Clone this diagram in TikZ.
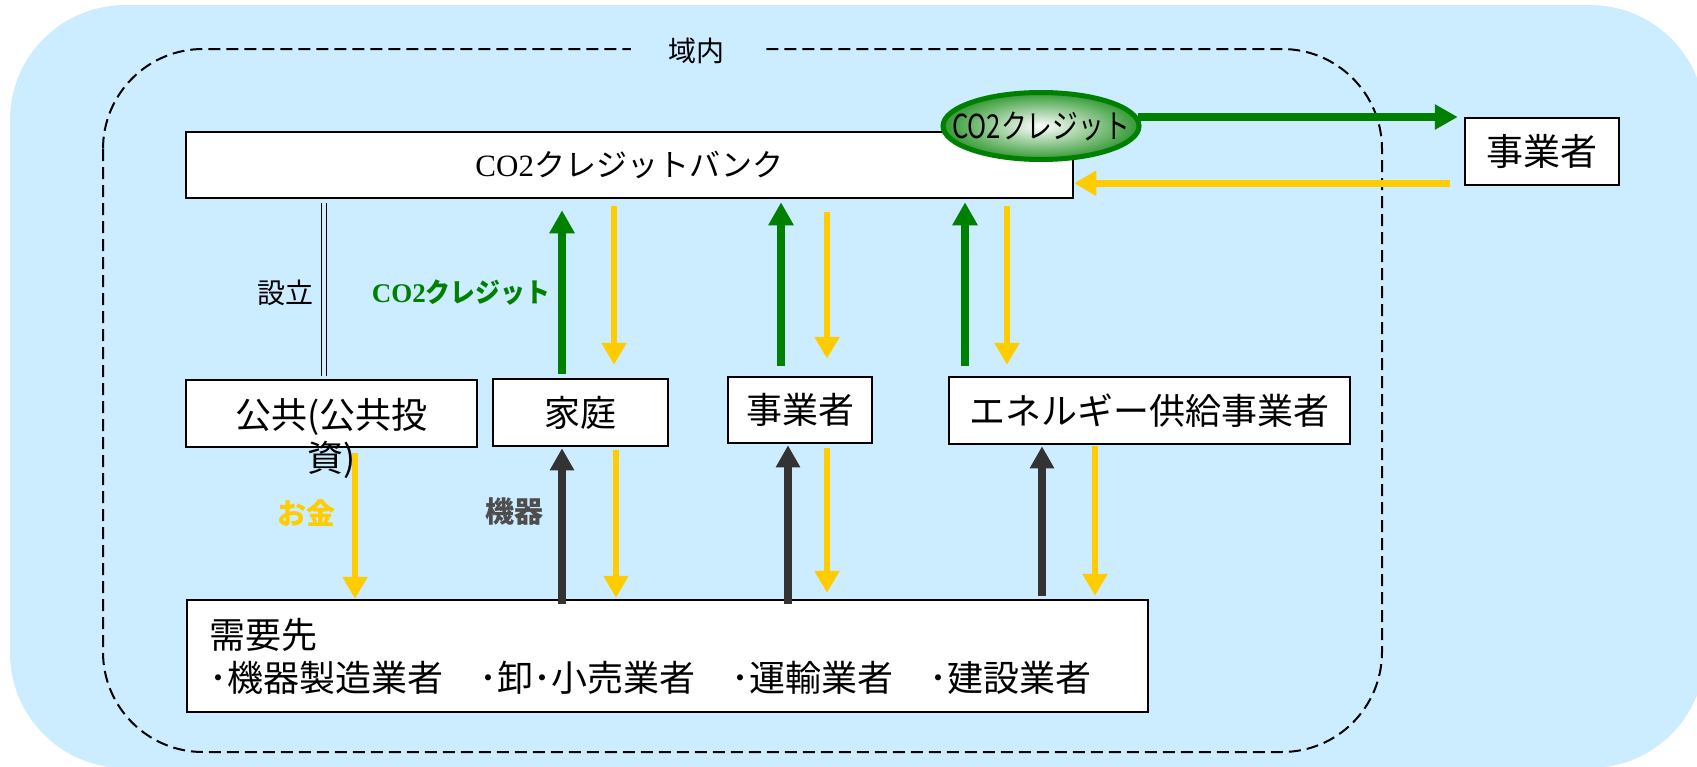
\documentclass[tikz,border=0pt]{standalone}
\usepackage{fontspec}
\usepackage{graphicx}
\setmainfont{Noto Sans CJK JP}
\newfontfamily\latinserif{Liberation Serif}
\usetikzlibrary{arrows.meta,shapes.geometric,calc}
\definecolor{bgblue}{RGB}{204,236,255}
\definecolor{cgreen}{RGB}{0,128,0}
\definecolor{cyellow}{RGB}{255,204,0}
\definecolor{cdark}{RGB}{51,51,51}
\definecolor{cgray}{RGB}{77,77,77}
\begin{document}
\begin{tikzpicture}[x=1pt,y=-1pt,
  box/.style={draw=black, line width=2.5pt, fill=white, inner sep=0pt, font=\fontsize{36}{43}\selectfont},
  garrow/.style={draw=cgreen, line width=8pt, -{Triangle[length=23pt,width=24pt]}},
  yarrow/.style={draw=cyellow, line width=6pt, -{Triangle[length=22pt,width=24pt]}},
  darrow/.style={draw=cdark, line width=8pt, -{Triangle[length=22pt,width=23pt]}},
  lab/.style={inner sep=0pt, font=\fontsize{27}{30}\selectfont}
]
\useasboundingbox (0,0) rectangle (1697,766);
% background
\fill[bgblue, rounded corners=115pt] (10,5) rectangle (1705,768);
% domain
\draw[line width=2pt, dash pattern=on 12pt off 6pt, rounded corners=100pt] (103,49) rectangle (1382,752);
\node[lab, font=\fontsize{28}{30}\selectfont, fill=bgblue, inner xsep=37pt, inner ysep=3pt] (ikinai) at (696,51) {域内};

% nodes
\node[box, minimum width=887pt, minimum height=66pt, font=\fontsize{31}{34}\selectfont] (bank) at (629.5,165) {{\latinserif CO2}クレジットバンク};
\node[ellipse, draw=cgreen, line width=5pt, inner color=white, outer color=cgreen!80, minimum width=196pt, minimum height=67pt, inner sep=0pt] (credit) at (1041,126) {};
\node[inner sep=0pt, font=\fontsize{33}{36}\selectfont] (credittxt) at (credit.center) {\scalebox{0.78}[1]{CO2クレジット}};
\node[box, minimum width=154pt, minimum height=67pt, font=\fontsize{37}{43}\selectfont] (jigyo1) at (1542,151.5) {事業者};
\node[box, minimum width=291pt, minimum height=67pt] (kokyo) at (331.5,413.5) {};
\node[inner sep=0pt, align=center, font=\fontsize{36}{43}\selectfont] (kokyotxt) at ([yshift=-25pt]kokyo.center) {公共(公共投\\資)};
\node[box, minimum width=175pt, minimum height=67pt] (katei) at (580.5,412.5) {家庭};
\node[box, minimum width=144pt, minimum height=66pt] (jigyo2) at (800,410) {事業者};
\node[box, minimum width=401pt, minimum height=67pt] (energy) at (1149.5,410.5) {エネルギー供給事業者};
\node[box, minimum width=961pt, minimum height=112pt, text width=917pt, inner xsep=22pt, align=left, font=\fontsize{36}{43}\selectfont] (juyo) at (667.5,656) {需要先\\･機器製造業者　･卸･小売業者　･運輸業者　･建設業者};

% labels
\node[lab, font=\fontsize{28}{30}\selectfont] (setsu) at (285,293) {設立};
\node[lab, font=\fontsize{27}{30}\selectfont\bfseries, text=cgreen] (co2lab) at (461,293) {{\latinserif\bfseries CO2}\scalebox{0.92}[1]{クレジット}};
\node[lab, font=\fontsize{29}{30}\selectfont\bfseries, text=cyellow] (okane) at (306,513) {お金};
\node[lab, font=\fontsize{29}{30}\selectfont\bfseries, text=cgray] (kiki) at (514,512) {機器};

% double line
\coordinate (dl) at ([xshift=-7.5pt,yshift=3pt]kokyo.north);
\draw[double=bgblue, double distance=3.5pt, line width=1.3pt] ([yshift=-4pt]dl |- bank.south) -- (dl);

% horizontal arrows
\coordinate (ga) at ([yshift=9pt,xshift=-4pt]credit.east);
\draw[garrow] (ga) -- ([xshift=-6pt]ga -| jigyo1.west);
\coordinate (ya) at ([xshift=-14pt,yshift=3pt]jigyo1.south west);
\draw[yarrow, line width=7pt] (ya) -- (ya -| bank.east);

% green up arrows
\coordinate (g1) at ([xshift=-18.5pt,yshift=4pt]katei.north);
\draw[garrow] (g1) -- ([yshift=-11pt]g1 |- bank.south);
\coordinate (g2) at ([xshift=-19pt,yshift=10pt]jigyo2.north);
\draw[garrow] (g2) -- ([yshift=-3pt]g2 |- bank.south);
\coordinate (g3) at ([xshift=-184.5pt,yshift=10pt]energy.north);
\draw[garrow] (g3) -- ([yshift=-3pt]g3 |- bank.south);

% yellow down arrows (upper)
\coordinate (y1) at ([xshift=33.5pt,yshift=13pt]katei.north);
\draw[yarrow] ([yshift=-7pt]y1 |- bank.south) -- (y1);
\coordinate (y2) at ([xshift=27pt,yshift=17pt]jigyo2.north);
\draw[yarrow] ([yshift=-13pt]y2 |- bank.south) -- (y2);
\coordinate (y3) at ([xshift=-142.5pt,yshift=11pt]energy.north);
\draw[yarrow] ([yshift=-7pt]y3 |- bank.south) -- (y3);

% dark up arrows
\coordinate (d1) at ([xshift=-18.5pt,yshift=-1pt]katei.south);
\draw[darrow] ([yshift=-5pt]d1 |- juyo.north) -- (d1);
\coordinate (d2) at ([xshift=-12pt,yshift=-1pt]jigyo2.south);
\draw[darrow] ([yshift=-5pt]d2 |- juyo.north) -- (d2);
\coordinate (d3) at ([xshift=-107.5pt,yshift=-1pt]energy.south);
\draw[darrow] ([yshift=3pt]d3 |- juyo.north) -- (d3);

% yellow down arrows (lower)
\coordinate (m0) at ([xshift=23.5pt,yshift=-5pt]kokyo.south);
\draw[yarrow] (m0) -- (m0 |- juyo.north);
\coordinate (m1) at ([xshift=35.5pt,yshift=-3pt]katei.south);
\draw[yarrow] (m1) -- ([yshift=1pt]m1 |- juyo.north);
\coordinate (m2) at ([xshift=27pt,yshift=-4pt]jigyo2.south);
\draw[yarrow] (m2) -- ([yshift=6pt]m2 |- juyo.north);
\coordinate (m3) at ([xshift=-54.5pt,yshift=-1pt]energy.south);
\draw[yarrow] (m3) -- ([yshift=3pt]m3 |- juyo.north);
\end{tikzpicture}
\end{document}
